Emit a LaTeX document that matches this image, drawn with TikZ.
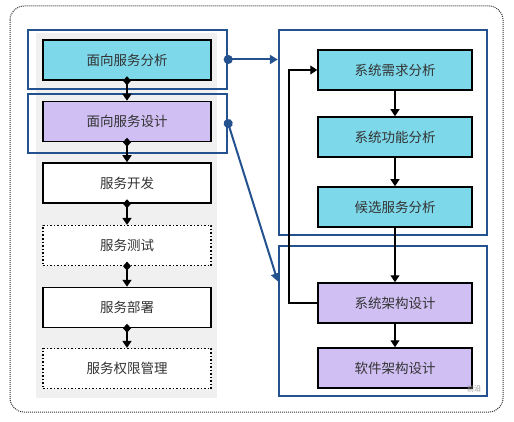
\documentclass[tikz,border=0pt]{standalone}
\usepackage{fontspec}
\newfontfamily\cjk{Noto Sans CJK SC}
\usetikzlibrary{arrows.meta,calc}
\definecolor{cyanbox}{HTML}{7DD8EA}
\definecolor{purbox}{HTML}{CFBFF3}
\definecolor{frameblue}{HTML}{24528F}
\definecolor{txt}{HTML}{333333}
\definecolor{bggray}{HTML}{F0F0F0}
\tikzset{
  box/.style={draw=black, line width=1.5pt, minimum width=168pt, minimum height=40pt, inner sep=0pt, font=\cjk\fontsize{13.5}{15}\selectfont, text=txt},
  dbox/.style={box, dotted, line width=1.2pt, fill=white},
  rbox/.style={box, minimum width=154pt},
  frame/.style={draw=frameblue, line width=2.4pt, inner sep=0pt},
  lconn/.style={draw=black, line width=1.6pt, {Diamond[length=9pt,width=8pt]}-{Triangle[length=7pt,width=9pt]}, shorten <=-4.5pt},
  rconn/.style={draw=black, line width=1.2pt, -{Triangle[length=7pt,width=9pt]}},
  bconn/.style={draw=frameblue, line width=2pt, {Circle[length=9pt]}-{Triangle[length=8pt,width=9pt]}, shorten <=-4.5pt},
}
\begin{document}
\begin{tikzpicture}[x=1pt,y=-1pt]
\useasboundingbox (0,0) rectangle (514,422);
\fill[white] (0,0) rectangle (514,422);
\draw[rounded corners=14pt, dash pattern=on 1pt off 1pt, line width=1pt, draw=black!80] (10,6) rectangle (503,412);
\fill[bggray] (36,33) rectangle (217,398);
% left column
\node[box, fill=cyanbox] (b1) at (127,60) {面向服务分析};
\node[box, fill=purbox] (b2) at (127,121.5) {面向服务设计};
\node[box, fill=white] (b3) at (127,183) {服务开发};
\node[dbox] (b4) at (127,245.5) {服务测试};
\node[box, fill=white] (b5) at (127,307.5) {服务部署};
\node[dbox] (b6) at (127,368.5) {服务权限管理};
% frames
\node[frame, minimum width=199pt, minimum height=59pt] (fl1) at (127.5,59.5) {};
\node[frame, minimum width=199pt, minimum height=59pt] (fl2) at (127.5,123.5) {};
\node[frame, minimum width=208pt, minimum height=205pt] (fr1) at (383,132.5) {};
\node[frame, minimum width=208pt, minimum height=150pt] (fr2) at (383,321) {};
% left connectors
\draw[lconn] (b1.south) -- (b2.north);
\draw[lconn] (b2.south) -- (b3.north);
\draw[lconn] (b3.south) -- (b4.north);
\draw[lconn] (b4.south) -- (b5.north);
\draw[lconn] (b5.south) -- (b6.north);
% right column
\node[rbox, fill=cyanbox] (r1) at (395,70) {系统需求分析};
\node[rbox, fill=cyanbox] (r2) at (395,137) {系统功能分析};
\node[rbox, fill=cyanbox] (r3) at (395,207) {候选服务分析};
\node[rbox, fill=purbox] (r4) at (395,303) {系统架构设计};
\node[rbox, fill=purbox] (r5) at (395,368) {软件架构设计};
\draw[rconn] (r1) -- (r2);
\draw[rconn] (r2) -- (r3);
\draw[rconn] (r3) -- (r4);
\draw[rconn] (r4) -- (r5);
\coordinate (fb) at (289,303);
\draw[rconn] (r4.west) -- (fb) |- (r1.west);
% blue connectors
\draw[bconn] (fl1.east) -- (fr1.west |- fl1.east);
\coordinate (t2) at ($(fr2.north west)!0.24!(fr2.south west)$);
\draw[bconn] (fl2.east) -- (t2);
\node[font=\cjk\fontsize{7}{8}\selectfont, text=black!45, inner sep=0pt] (wm) at (474,389) {前沿};
\end{tikzpicture}
\end{document}
